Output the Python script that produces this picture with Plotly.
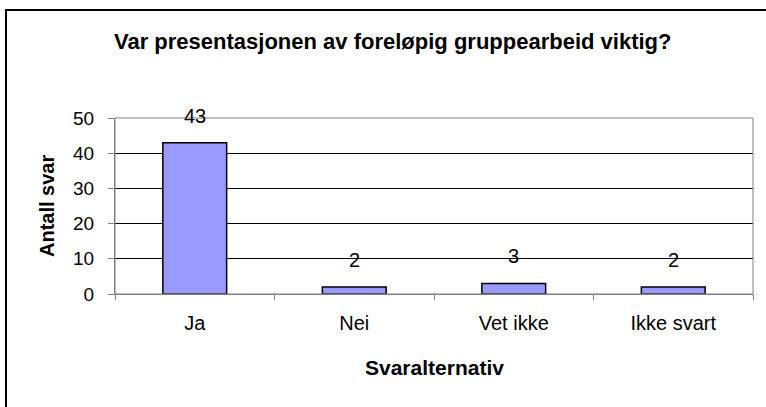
import plotly.graph_objects as go

categories = ["Ja", "Nei", "Vet ikke", "Ikke svart"]
counts = [43, 2, 3, 2]
y_ticks = [0, 10, 20, 30, 40, 50]

chart_title = "Var presentasjonen av foreløpig gruppearbeid viktig?"
x_title = "Svaralternativ"
y_title = "Antall svar"

W, H = 766, 407
L, R, T, B = 115, 13, 118, 113
pw, ph = W - L - R, H - T - B

font_name = "Liberation Sans, Arial, sans-serif"

fig = go.Figure()
fig.add_trace(go.Bar(
    x=categories,
    y=counts,
    marker=dict(color="#9999FF", line=dict(color="black", width=1.5)),
    hoverinfo="x+y",
))

# value labels above the bars
for c, v in zip(categories, counts):
    fig.add_annotation(x=c, y=v, text=str(v), showarrow=False,
                       yshift=27, font=dict(size=20, color="black"))

fig.add_annotation(xref="paper", yref="paper", x=(392 - L) / pw, y=(H - B - 41) / ph,
                   xanchor="center", yanchor="middle",
                   text="<b>" + chart_title + "</b>", showarrow=False,
                   font=dict(size=22, color="black"))
fig.add_annotation(xref="paper", yref="paper", x=0.5, y=(H - B - 367) / ph,
                   xanchor="center", yanchor="middle",
                   text="<b>" + x_title + "</b>", showarrow=False,
                   font=dict(size=21, color="black"))
fig.add_annotation(xref="paper", yref="paper", x=(47 - L) / pw, y=0.5,
                   xanchor="center", yanchor="middle",
                   text="<b>" + y_title + "</b>", showarrow=False, textangle=-90,
                   font=dict(size=20, color="black"))

# outer chart border
fig.add_shape(type="rect", xref="paper", yref="paper",
              x0=(6 - L) / pw, x1=(775 - L) / pw,
              y0=(H - B - 415) / ph, y1=(H - B - 10) / ph,
              line=dict(color="black", width=2))
# plot area border
fig.add_shape(type="rect", xref="paper", yref="paper", x0=0, x1=1, y0=0, y1=1,
              line=dict(color="#808080", width=1), layer="above")

fig.update_layout(
    width=W, height=H,
    margin=dict(l=L, r=R, t=T, b=B),
    plot_bgcolor="white", paper_bgcolor="white",
    font=dict(family=font_name, size=18, color="black"),
    bargap=0.6,
    showlegend=False,
)
fig.update_xaxes(
    showline=True, linecolor="#808080", linewidth=1,
    ticks="outside", tickson="boundaries", ticklen=5, tickcolor="#808080",
    tickfont=dict(size=20), ticklabelstandoff=11,
    showgrid=False,
)
fig.update_yaxes(
    range=[0, 50], tickvals=y_ticks,
    showline=True, linecolor="#808080", linewidth=1,
    ticks="outside", ticklen=6, tickcolor="#808080",
    tickfont=dict(size=19), ticklabelstandoff=10,
    showgrid=True, gridcolor="black", gridwidth=1,
    zeroline=False,
)

fig.write_html("out.html", config={"displayModeBar": False},
               post_script="document.body.style.margin='0';")
